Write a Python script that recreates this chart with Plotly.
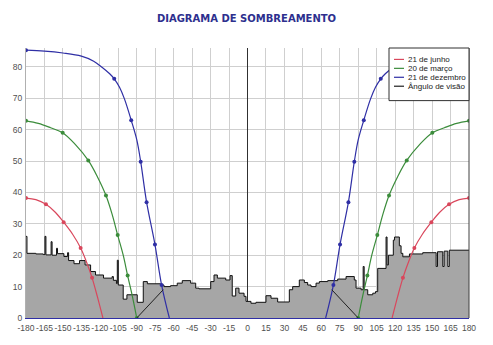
import plotly.graph_objects as go

# ---------------- data ----------------
TITLE = "DIAGRAMA DE SOMBREAMENTO"
X_TICKS = list(range(-180, 181, 15))
Y_TICKS = list(range(0, 81, 10))

# horizon / obstacle profile (step line)
TERRAIN_AZ = [-180, -179.2, -172, -166, -164.6, -163.8, -159.6, -158.8, -155.2, -154.4,
              -149.2, -146.2, -145.4, -141, -136.5, -132, -127.5, -123.5, -117, -110,
              -109, -106.5, -105.8, -105.0, -101, -98, -89.6, -84.7, -81.4, -70.6,
              -67.9, -62.5, -57.1, -53, -46.2, -42.1, -39.4, -29.9, -27.2, -24.5,
              -17.7, -14.2, -12.4, -9.6, -6.9, -2.8, -1.2, 2.8, 6.9, 15,
              19.1, 24.5, 34, 36.7, 42.1, 46.2, 48.9, 51.6, 55.7, 58.4,
              65.2, 73.3, 80.1, 86.8, 88.2, 92.3, 94.0, 94.8, 97.7, 101.8,
              104, 105.8, 112.6, 113.4, 114.5, 118.5, 119.5, 123.4, 124.8, 126.2,
              131.6, 142.4, 153.3, 154.4, 158.7, 159.8, 162.8, 164.0, 180]
TERRAIN_EL = [26.0, 20.6, 20.4, 20.2, 26.0, 20.1, 24.3, 20.0, 22.2, 20.5,
              19.6, 20.8, 18.3, 17.3, 18.3, 16.9, 14.8, 13.7, 12.7, 13.2,
              12.0, 11.0, 18.4, 10.5, 6.0, 7.4, 5.0, 11.6, 10.9, 10.5,
              10.0, 10.3, 11.1, 11.9, 11.1, 9.5, 9.3, 11.6, 13.7, 12.7,
              12.1, 13.5, 7.0, 9.5, 7.9, 6.9, 5.3, 4.7, 5.0, 7.1,
              6.3, 5.1, 9.0, 10.0, 12.1, 11.3, 10.5, 10.0, 11.1, 11.6,
              11.9, 12.4, 13.2, 12.1, 9.5, 9.0, 16.4, 9.0, 7.4, 7.9,
              8.4, 15.8, 25.8, 16.9, 20.0, 24.8, 25.8, 23.0, 20.6, 19.5,
              20.4, 20.8, 16.4, 21.1, 16.4, 21.3, 16.4, 21.6, 21.6]

# 21 de junho (red)
JUN_AZ = [-180, -172, -163.8, -156, -149.4, -142, -135.6, -131, -126.3, -122, -117.5,
          None, 117.5, 122, 126.3, 131, 135.6, 142, 149.4, 156, 163.8, 172, 180]
JUN_EL = [38.2, 37.7, 36.2, 33.6, 30.5, 26.6, 22.3, 18.0, 12.8, 6.8, 0,
          None, 0, 6.8, 12.8, 18.0, 22.3, 26.6, 30.5, 33.6, 36.2, 37.7, 38.2]
JUN_MK_AZ = [-180, -163.8, -149.4, -135.6, -126.3, 126.3, 135.6, 149.4, 163.8, 180]
JUN_MK_EL = [38.2, 36.2, 30.5, 22.3, 12.8, 12.8, 22.3, 30.5, 36.2, 38.2]

# 20 de março (green)
MAR_AZ = [-180, -170, -160, -150.2, -140, -129.4, -122, -115, -110, -105.5, -101, -97.4, -93.5, -90,
          None, 90, 93.5, 97.4, 101, 105.5, 110, 115, 122, 129.4, 140, 150.2, 160, 170, 180]
MAR_EL = [62.8, 62.0, 60.6, 59.0, 55.3, 50.2, 45.0, 39.0, 33.0, 26.4, 20.0, 13.5, 6.8, 0,
          None, 0, 6.8, 13.5, 20.0, 26.4, 33.0, 39.0, 45.0, 50.2, 55.3, 59.0, 60.6, 62.0, 62.8]
MAR_MK_AZ = [-180, -150.2, -129.4, -115, -105.5, -97.4, -90, 90, 97.4, 105.5, 115, 129.4, 150.2, 180]
MAR_MK_EL = [62.8, 59.0, 50.2, 39.0, 26.4, 13.5, 0, 0, 13.5, 26.4, 39.0, 50.2, 59.0, 62.8]

# 21 de dezembro (blue)
DEZ_AZ = [-180, -165, -150, -135, -125, -118, -112, -108.3, -104, -100, -94.5, -90, -86.8, -82,
          -75.2, -69.8, -63.5,
          None, 63.5, 69.8, 75.2, 82, 86.8, 90, 94.5, 100, 104, 108.3, 112, 118, 125, 135,
          150, 165, 180]
DEZ_EL = [85.3, 85.0, 84.4, 83.4, 81.8, 79.8, 77.8, 76.2, 73.5, 69.8, 63.0, 56.8, 49.8, 36.9,
          23.4, 10.5, 0,
          None, 0, 10.5, 23.4, 36.9, 49.8, 56.8, 63.0, 69.8, 73.5, 76.2, 77.8, 79.8, 81.8, 83.4,
          84.4, 85.0, 85.3]
DEZ_MK_AZ = [-180, -108.3, -94.5, -86.8, -82, -75.2, -69.8, 69.8, 75.2, 82, 86.8, 94.5, 108.3, 180]
DEZ_MK_EL = [85.3, 76.2, 63.0, 49.8, 36.9, 23.4, 10.5, 10.5, 23.4, 36.9, 49.8, 63.0, 76.2, 85.3]

# Ângulo de visão (black)
VIS_AZ = [-90, -68.5, None, 68.5, 90]
VIS_EL = [0, 9.0, None, 9.0, 0]

LEGEND_NAMES = ["21 de junho", "20 de março", "21 de dezembro", "Ângulo de visão"]

# ---------------- styles ----------------
RED = "#d9475c"
GREEN = "#3b8c3b"
BLUE = "#2f2fa5"
BLACK = "#202020"
LEGEND_COLORS = [RED, GREEN, BLUE, BLACK]
TICK_FONT = dict(family="Liberation Sans, Arial", size=8.5, color="#505050")

fig = go.Figure()

fig.add_trace(go.Scatter(x=TERRAIN_AZ, y=TERRAIN_EL, mode="lines", line_shape="hv",
                         line=dict(color="#101010", width=1), fill="tozeroy",
                         fillcolor="#a6a6a6", showlegend=False, hoverinfo="skip"))

for az, el, maz, mel, col in [(JUN_AZ, JUN_EL, JUN_MK_AZ, JUN_MK_EL, RED),
                              (MAR_AZ, MAR_EL, MAR_MK_AZ, MAR_MK_EL, GREEN),
                              (DEZ_AZ, DEZ_EL, DEZ_MK_AZ, DEZ_MK_EL, BLUE)]:
    fig.add_trace(go.Scatter(x=az, y=el, mode="lines", line_shape="spline",
                             line=dict(color=col, width=1.2), showlegend=False,
                             connectgaps=False))
    fig.add_trace(go.Scatter(x=maz, y=mel, mode="markers",
                             marker=dict(color=col, size=4), showlegend=False))

fig.add_trace(go.Scatter(x=VIS_AZ, y=VIS_EL, mode="lines",
                         line=dict(color=BLACK, width=1), showlegend=False,
                         connectgaps=False))

# plot area in pixels: x 26..469, y 48..320
L, R, T, B = 26, 24, 48, 25
W, H = 493, 345
pw, ph = W - L - R, H - T - B


def px_x(p):
    return (p - L) / pw


def px_y(p):
    return (H - B - p) / ph


shapes = [
    # right frame line
    dict(type="line", xref="paper", yref="paper", x0=1, x1=1, y0=0, y1=1,
         line=dict(color="#404040", width=1), layer="above"),
    # legend box
    dict(type="rect", xref="paper", yref="paper", x0=px_x(389), x1=1.0,
         y0=px_y(101), y1=1.0, fillcolor="white",
         line=dict(color="#303030", width=1), layer="above"),
]
annotations = []
legend_y = [59.5, 68.5, 77.5, 86.5]
for name, col, yy in zip(LEGEND_NAMES, LEGEND_COLORS, legend_y):
    shapes.append(dict(type="line", xref="paper", yref="paper",
                       x0=px_x(394), x1=px_x(404), y0=px_y(yy), y1=px_y(yy),
                       line=dict(color=col, width=1.2), layer="above"))
    annotations.append(dict(text=name, xref="paper", yref="paper", x=px_x(405.5), y=px_y(yy),
                            xanchor="left", yanchor="middle", showarrow=False,
                            font=dict(family="Liberation Sans, Arial", size=8, color="#222")))

fig.update_layout(
    width=W, height=H,
    margin=dict(l=L, r=R, t=T, b=B, pad=0),
    paper_bgcolor="white", plot_bgcolor="white",
    title=dict(text=TITLE, x=0.5, xanchor="center", y=1 - 18 / H, yanchor="middle",
               font=dict(family="DejaVu Sans, Verdana", size=10, color="#2d2f8e", weight="bold")),
    xaxis=dict(range=[-180, 180], tickvals=X_TICKS, ticktext=[str(v) for v in X_TICKS],
               tickangle=0, showgrid=True, gridcolor="#cfcfcf", gridwidth=1,
               zeroline=True, zerolinecolor="#303030", zerolinewidth=1,
               showline=True, linecolor=BLUE, linewidth=1,
               ticks="outside", ticklen=2, tickcolor="rgba(0,0,0,0)",
               tickfont=TICK_FONT),
    yaxis=dict(range=[0, 86], tickvals=Y_TICKS, showgrid=True, gridcolor="#cfcfcf",
               gridwidth=1, zeroline=False, showline=True, linecolor="#b0b0b0",
               linewidth=1, ticks="outside", ticklen=1, tickcolor="rgba(0,0,0,0)",
               tickfont=TICK_FONT),
    shapes=shapes, annotations=annotations, showlegend=False,
)

fig.write_html("out.html")
